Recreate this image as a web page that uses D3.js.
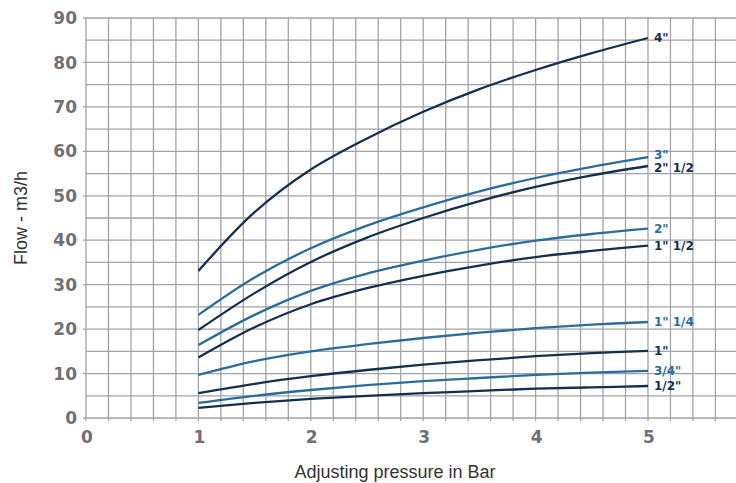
<!DOCTYPE html>
<html>
<head>
<meta charset="utf-8">
<script src="https://cdn.jsdelivr.net/npm/d3@7"></script>
<style>
  body { margin: 0; background: #fff; }
  svg { display: block; }
</style>
</head>
<body>
<script>
// 画布尺寸
var w = 736;
var h = 483;

// 横轴：调节压力 (bar)
var pressure = [1, 1.5, 2, 2.5, 3, 3.5, 4, 4.5, 5];

// 各口径的流量 (m3/h)
var flow4 = [33.1, 46.3, 55.9, 62.9, 68.9, 74, 78.3, 82.1, 85.5];
var flow3 = [23.2, 31.6, 38.2, 43.3, 47.4, 51, 54, 56.5, 58.7];
var flow2_12 = [19.8, 28.1, 35.1, 40.6, 45, 48.8, 52, 54.6, 56.7];
var flow2 = [16.4, 23.2, 28.6, 32.5, 35.4, 37.9, 39.9, 41.4, 42.6];
var flow1_12 = [13.6, 20.4, 25.6, 29.2, 32, 34.3, 36.2, 37.6, 38.8];
var flow1_14 = [9.7, 12.8, 15, 16.6, 18, 19.2, 20.2, 21, 21.6];
var flow1 = [5.6, 7.7, 9.4, 10.8, 12, 13, 13.9, 14.6, 15.1];
var flow34 = [3.4, 5, 6.3, 7.4, 8.3, 9, 9.7, 10.2, 10.6];
var flow12 = [2.3, 3.4, 4.3, 5, 5.6, 6.1, 6.6, 6.9, 7.2];

// 系列名称（与上面顺序一致）
var seriesNames = ['4"', '3"', '2" 1/2', '2"', '1" 1/2', '1" 1/4', '1"', '3/4"', '1/2"'];
var seriesValues = [flow4, flow3, flow2_12, flow2, flow1_12, flow1_14, flow1, flow34, flow12];

// 刻度
var xTicks = [0, 1, 2, 3, 4, 5];
var yTicks = [0, 10, 20, 30, 40, 50, 60, 70, 80, 90];

// 颜色：深蓝 / 蓝 交替
var dark = "#15304f";
var blue = "#2b6c9e";
var gridColor = "#a2a2a8";
var tickColor = "#707076";

var svg = d3.select("body").append("svg")
    .attr("width", w)
    .attr("height", h);

// 比例尺
var x = d3.scaleLinear().domain([0, 5.8]).range([86, 737.9]);
var y = d3.scaleLinear().domain([0, 90]).range([418, 18]);

// ———— 网格 ———— //
var vGrid = d3.range(0, 5.81, 0.2);
var hGrid = d3.range(0, 90.1, 5);

svg.append("g")
    .selectAll("line")
    .data(vGrid)
    .enter()
    .append("line")
    .attr("x1", function (d) { return x(d); })
    .attr("x2", function (d) { return x(d); })
    .attr("y1", y(90))
    .attr("y2", y(0) + 3)
    .style("stroke", gridColor)
    .style("stroke-width", 1.3);

svg.append("g")
    .selectAll("line")
    .data(hGrid)
    .enter()
    .append("line")
    .attr("x1", function (d) { return d % 10 == 0 ? x(0) - 3 : x(0); })
    .attr("x2", w)
    .attr("y1", function (d) { return y(d); })
    .attr("y2", function (d) { return y(d); })
    .style("stroke", gridColor)
    .style("stroke-width", 1.3);

// ———— 刻度文字 ———— //
svg.append("g")
    .selectAll("text")
    .data(yTicks)
    .enter()
    .append("text")
    .attr("x", 77)
    .attr("y", function (d) { return y(d); })
    .attr("dy", "0.36em")
    .attr("text-anchor", "end")
    .style("font-family", "'DejaVu Sans', sans-serif")
    .style("font-weight", "bold")
    .style("font-size", "17px")
    .style("fill", tickColor)
    .text(function (d) { return d; });

svg.append("g")
    .selectAll("text")
    .data(xTicks)
    .enter()
    .append("text")
    .attr("x", function (d) { return x(d) + 1; })
    .attr("y", 443)
    .attr("text-anchor", "middle")
    .style("font-family", "'DejaVu Sans', sans-serif")
    .style("font-weight", "bold")
    .style("font-size", "17px")
    .style("fill", tickColor)
    .text(function (d) { return d; });

// ———— 轴标题 ———— //
svg.append("text")
    .attr("x", 395)
    .attr("y", 478)
    .attr("text-anchor", "middle")
    .style("font-family", "'Liberation Sans', Arial, sans-serif")
    .style("font-size", "18px")
    .style("fill", "#333")
    .text("Adjusting pressure in Bar");

svg.append("text")
    .attr("transform", "translate(27,218) rotate(-90)")
    .attr("text-anchor", "middle")
    .style("font-family", "'Liberation Sans', Arial, sans-serif")
    .style("font-size", "18px")
    .style("fill", "#333")
    .text("Flow - m3/h");

// ———— 曲线 ———— //
var line = d3.line()
    .x(function (d, i) { return x(pressure[i]); })
    .y(function (d) { return y(d); })
    .curve(d3.curveCatmullRom.alpha(0.5));

// 标签纵向位置：末端值，过近时上下分开
var labelY = seriesValues.map(function (vals) { return y(vals[vals.length - 1]); });
for (var k = 1; k < labelY.length; k++) {
    var gap = labelY[k] - labelY[k - 1];
    if (gap < 13) {
        var shift = (13 - gap) / 2;
        labelY[k - 1] -= shift;
        labelY[k] += shift;
    }
}

seriesValues.forEach(function (vals, i) {
    var c = i % 2 == 0 ? dark : blue;
    svg.append("path")
        .attr("d", line(vals))
        .style("fill", "none")
        .style("stroke", c)
        .style("stroke-width", 2.3);

    // 末端标签
    svg.append("text")
        .attr("x", x(5) + 6)
        .attr("y", labelY[i])
        .attr("dy", "0.36em")
        .style("font-family", "'DejaVu Sans', sans-serif")
        .style("font-weight", "bold")
        .style("font-size", "12px")
        .style("fill", c)
        .text(seriesNames[i]);
});
</script>
</body>
</html>
